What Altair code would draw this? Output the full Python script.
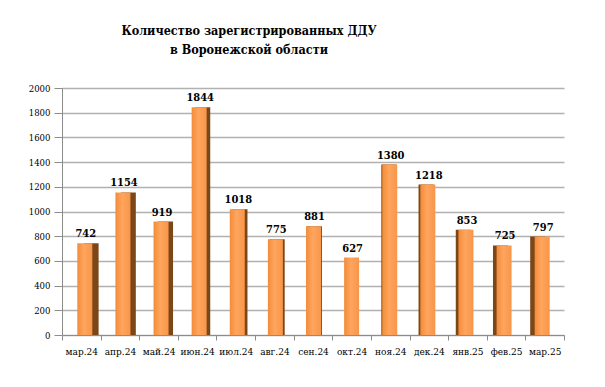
import altair as alt
import pandas as pd

months = ["мар.24", "апр.24", "май.24", "июн.24", "июл.24", "авг.24", "сен.24",
          "окт.24", "ноя.24", "дек.24", "янв.25", "фев.25", "мар.25"]
values = [742, 1154, 919, 1844, 1018, 775, 881, 627, 1380, 1218, 853, 725, 797]
y_ticks = [0, 200, 400, 600, 800, 1000, 1200, 1400, 1600, 1800, 2000]
title_lines = ["Количество зарегистрированных ДДУ", "в Воронежской области"]

df = pd.DataFrame({"month": months, "value": values})

FONT = "DejaVu Serif Condensed"

base = alt.Chart(df).transform_window(idx="row_number()")

x_enc = alt.X("month:N", sort=months, title=None,
              scale=alt.Scale(paddingInner=0, paddingOuter=0),
              axis=alt.Axis(labelAngle=0, labelFont=FONT, labelFontSize=10,
                            labelColor="#000", labelPadding=6,
                            domainColor="#8c8c8c", tickColor="#8c8c8c",
                            tickBand="extent", tickSize=5, grid=False))
y_enc = alt.Y("value:Q", title=None,
              scale=alt.Scale(domain=[0, 2000], nice=False),
              axis=alt.Axis(values=y_ticks, format="d", labelFont=FONT,
                            labelFontSize=9.5, labelColor="#000", labelPadding=4,
                            domainColor="#8c8c8c", tickColor="#8c8c8c",
                            tickSize=8, gridColor="#b1b1b1", gridWidth=1.5))

front_fill = alt.Gradient(
    gradient="linear", x1=0, x2=1, y1=0, y2=0,
    stops=[alt.GradientStop(color="#F28C3A", offset=0),
           alt.GradientStop(color="#FFA55E", offset=0.45),
           alt.GradientStop(color="#F7964A", offset=1)])

# per-bar perspective: front face drifts a little, dark side shows on one side
sides, fronts, texts = [], [], []
for i in range(1, len(months) + 1):
    drift = round((8 - i) * 0.5, 1)
    side = round((8 - i) * 0.9, 1)
    one = base.transform_filter(alt.datum.idx == i)
    if abs(side) >= 0.5:
        sides.append(one.mark_bar(size=15, color="#7b4718", xOffset=drift + side)
                     .encode(x=x_enc, y=y_enc))
    fronts.append(one.mark_bar(size=15, color=front_fill, xOffset=drift)
                  .encode(x=x_enc, y=y_enc))
    texts.append(one.mark_text(baseline="bottom", dy=-4, dx=drift + 1, font=FONT,
                               fontSize=11, fontWeight="bold", color="#000")
                 .encode(x=x_enc, y=y_enc, text=alt.Text("value:Q", format="d")))

chart = alt.layer(*sides, *fronts, *texts).properties(
    width=502, height=247,
    title=alt.TitleParams(title_lines, font=FONT, fontSize=12.5, fontWeight="bold",
                          color="#000", anchor="middle", dx=-64, offset=27,
                          lineHeight=19),
    padding={"left": 54, "top": 80, "right": 33, "bottom": 36},
    autosize=alt.AutoSizeParams(type="none"),
    background="white"
).configure_view(stroke=None)

chart.save("out.html", embed_options={"renderer": "svg", "actions": False})
